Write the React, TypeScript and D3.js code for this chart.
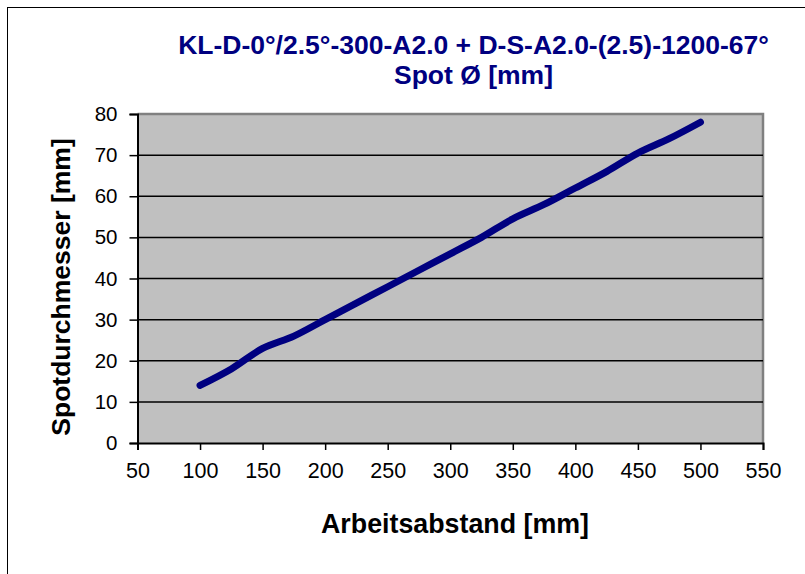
import React, { useEffect, useRef } from "react";
import * as d3 from "d3";

const distances = [100, 125, 150, 175, 200, 225, 250, 275, 300, 325, 350, 375, 400, 425, 450, 475, 500];
const spotDiameters = [14, 18, 23, 26, 30, 34, 38, 42, 46, 50, 54.5, 58, 62, 66, 70.5, 74, 78];
const xTicks = [50, 100, 150, 200, 250, 300, 350, 400, 450, 500, 550];
const yTicks = [0, 10, 20, 30, 40, 50, 60, 70, 80];
const titleLines = ["KL-D-0°/2.5°-300-A2.0 + D-S-A2.0-(2.5)-1200-67°", "Spot Ø [mm]"];
const xTitle = "Arbeitsabstand [mm]";
const yTitle = "Spotdurchmesser [mm]";

const App = () => {
  const ref = useRef<SVGSVGElement>(null);

  useEffect(() => {
    drawChart();
  }, []);

  const drawChart = () => {
    const w = 805;
    const h = 574;
    const svg = d3.select(ref.current);
    svg.selectAll("*").remove();

    const left = 137.5, right = 763, top = 114, bottom = 443;
    const x = d3.scaleLinear().domain([50, 550]).range([left, right]);
    const y = d3.scaleLinear().domain([0, 80]).range([bottom, top]);
    const font = "'Liberation Sans', Arial, sans-serif";

    svg.append("rect").attr("width", w).attr("height", h).attr("fill", "#fff");
    // outer chart frame
    svg.append("rect")
      .attr("x", 7.5).attr("y", 7.5)
      .attr("width", w + 20).attr("height", h + 20)
      .attr("fill", "none").attr("stroke", "#000").attr("stroke-width", 1);

    // plot area
    svg.append("rect")
      .attr("x", left).attr("y", top)
      .attr("width", right - left).attr("height", bottom - top)
      .attr("fill", "#c0c0c0");
    svg.append("path")
      .attr("d", `M${left},${top}H${right}V${bottom}`)
      .attr("fill", "none").attr("stroke", "#808080").attr("stroke-width", 2.5);

    // gridlines
    svg.append("g").selectAll("line")
      .data(yTicks.filter(d => d > 0 && d < 80))
      .enter().append("line")
      .attr("x1", left).attr("x2", right)
      .attr("y1", d => y(d)).attr("y2", d => y(d))
      .attr("stroke", "#000").attr("stroke-width", 1.5);

    // y axis
    const yAxis = svg.append("g")
      .attr("transform", `translate(${left},0)`)
      .call(d3.axisLeft(y).tickValues(yTicks).tickSize(8).tickPadding(12));
    yAxis.select(".domain").attr("stroke-width", 2);
    yAxis.selectAll("line").attr("stroke-width", 1.5);
    yAxis.selectAll("text").attr("font-family", font).attr("font-size", 20.5).attr("fill", "#000");

    // x axis
    const xAxis = svg.append("g")
      .attr("transform", `translate(0,${bottom})`)
      .call(d3.axisBottom(x).tickValues(xTicks).tickSize(7).tickPadding(13));
    xAxis.select(".domain").attr("stroke-width", 2);
    xAxis.selectAll("line").attr("stroke-width", 1.5);
    xAxis.selectAll("text").attr("font-family", font).attr("font-size", 21.5).attr("fill", "#000");

    // series line
    const line = d3.line<number>()
      .x((d, i) => x(distances[i]))
      .y(d => y(d))
      .curve(d3.curveCatmullRom);
    svg.append("path")
      .datum(spotDiameters)
      .attr("d", line)
      .attr("fill", "none")
      .attr("stroke", "#000080")
      .attr("stroke-width", 7)
      .attr("stroke-linecap", "round")
      .attr("stroke-linejoin", "round");

    // titles
    svg.append("g").selectAll("text")
      .data(titleLines)
      .enter().append("text")
      .attr("x", 473.5)
      .attr("y", (d, i) => 54 + i * 30)
      .attr("text-anchor", "middle")
      .attr("font-family", font)
      .attr("font-weight", "bold")
      .attr("font-size", 26.5)
      .attr("fill", "#000080")
      .text(d => d);

    svg.append("text")
      .attr("x", 455)
      .attr("y", 533)
      .attr("text-anchor", "middle")
      .attr("font-family", font)
      .attr("font-weight", "bold")
      .attr("font-size", 26.8)
      .text(xTitle);

    svg.append("text")
      .attr("transform", `translate(70,287) rotate(-90)`)
      .attr("text-anchor", "middle")
      .attr("font-family", font)
      .attr("font-weight", "bold")
      .attr("font-size", 26.5)
      .text(yTitle);
  };

  return (
    <div>
      <svg ref={ref} width={805} height={574} style={{ display: "block", position: "absolute", left: 0, top: 0 }} />
    </div>
  );
};

export default App;
